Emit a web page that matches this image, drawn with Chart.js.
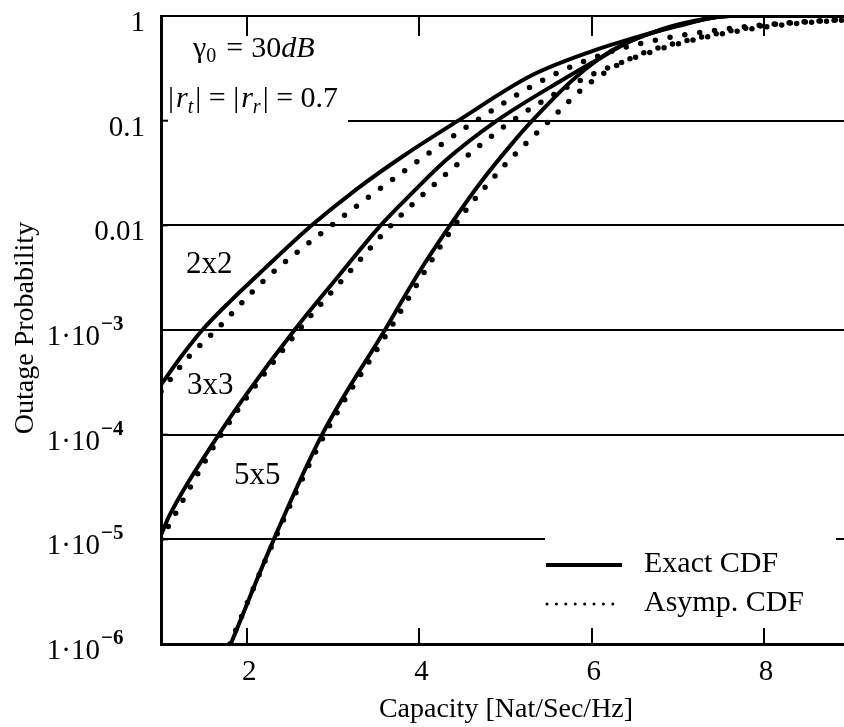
<!DOCTYPE html>
<html>
<head>
<meta charset="utf-8">
<script src="https://cdn.jsdelivr.net/npm/chart.js@4.4.0/dist/chart.umd.min.js"></script>
<style>
html,body{margin:0;padding:0;background:#fff;}
canvas{display:block;}
</style>
</head>
<body>
<canvas id="c" width="844" height="727"></canvas>
<script>
// valores (capacidade em Nat/Sec/Hz, probabilidade de outage)
const cap2x2Exact = [1.0, 1.25, 1.48, 1.8, 2.2, 2.75, 3.25, 3.83, 4.45, 5.3, 6.0, 6.5, 7.0, 7.6, 9.0];
const out2x2Exact = [3.0e-4, 5.8e-4, 1e-3, 1.87e-3, 3.84e-3, 0.01, 0.0215, 0.047, 0.1, 0.27, 0.46, 0.62, 0.81, 1, 1];
const cap2x2Asymp = [1.0, 1.3, 1.64, 2.2, 2.98, 3.8, 4.66, 5.5, 6.2, 6.8, 7.5, 8.2, 9.0];
const out2x2Asymp = [2.6e-4, 5.3e-4, 1e-3, 3e-3, 0.01, 0.032, 0.1, 0.26, 0.45, 0.6, 0.74, 0.85, 0.93];

const cap3x3Exact = [1.0, 1.1, 1.67, 1.97, 2.55, 3.09, 3.55, 3.92, 4.31, 4.9, 5.66, 6.06, 6.5, 7.0, 7.6, 9.0];
const out3x3Exact = [1.1e-5, 1.7e-5, 1e-4, 2.3e-4, 1e-3, 3.5e-3, 0.01, 0.0205, 0.042, 0.1, 0.245, 0.38, 0.6, 0.8, 1, 1];
const cap3x3Asymp = [1.0, 1.7, 2.6, 3.15, 3.67, 4.35, 5.08, 5.9, 6.5, 7.1, 7.8, 8.4, 9.0];
const out3x3Asymp = [1e-5, 1e-4, 1e-3, 3.3e-3, 0.01, 0.033, 0.1, 0.25, 0.4, 0.57, 0.74, 0.85, 0.92];

const cap5x5Exact = [1.81, 2.31, 2.87, 3.6, 4.0, 4.31, 4.7, 5.08, 5.31, 5.78, 6.24, 6.8, 7.2, 7.6, 9.0];
const out5x5Exact = [1e-6, 1e-5, 1e-4, 1e-3, 3.6e-3, 0.0088, 0.025, 0.061, 0.1, 0.245, 0.47, 0.74, 0.9, 1, 1];
const cap5x5Asymp = [1.8, 2.32, 2.9, 3.65, 4.41, 4.97, 5.51, 5.95, 6.5, 7.13, 7.9, 8.5, 9.0];
const out5x5Asymp = [1e-6, 1e-5, 1e-4, 1e-3, 0.01, 0.036, 0.1, 0.22, 0.41, 0.59, 0.79, 0.88, 0.93];

const xTicks = [2, 4, 6, 8];
const yTicks = [1, 0.1, 0.01, 1e-3, 1e-4, 1e-5, 1e-6];
const yTickBase = ['1', '0.1', '0.01', '1\u00b710', '1\u00b710', '1\u00b710', '1\u00b710'];
const yTickExp = ['', '', '', '\u22123', '\u22124', '\u22125', '\u22126'];
const curveNames = ['2x2', '3x3', '5x5'];
const legendNames = ['Exact CDF', 'Asymp. CDF'];

const SERIF = '"Liberation Serif", "Times New Roman", serif';

function pts(xs, ys){ return xs.map((x,i)=>({x:x, y:ys[i]})); }

function exactSet(xs, ys){
  return { data: pts(xs, ys), borderColor:'#000', borderWidth:4, pointRadius:0,
    cubicInterpolationMode:'monotone', fill:false };
}
function asympSet(xs, ys){
  return { data: pts(xs, ys), borderColor:'#000', borderWidth:5.5, pointRadius:0,
    borderDash:[0, 15], borderCapStyle:'round', cubicInterpolationMode:'monotone', fill:false };
}

function runs(ctx, x, y, parts){
  parts.forEach(p=>{
    ctx.font = p.f;
    ctx.fillText(p.t, x, y + (p.dy||0));
    x += ctx.measureText(p.t).width + (p.gap||0);
  });
}

const overlay = {
  id:'overlay',
  beforeDatasetsDraw(chart){
    const ctx = chart.ctx;
    ctx.save();
    ctx.fillStyle = '#fff';
    // caixas brancas do texto e da legenda (cortam a grade)
    ctx.fillRect(163, 19, 348-163, 135-19);
    ctx.fillRect(545, 528, 836-545, 641-528);
    ctx.restore();
  },
  afterDraw(chart){
    const ctx = chart.ctx, xs = chart.scales.x, ys = chart.scales.y;
    const a = chart.chartArea;
    ctx.save();
    ctx.strokeStyle = '#000'; ctx.fillStyle = '#000';
    // marcas do eixo x (em cima e embaixo, para dentro)
    ctx.lineWidth = 2;
    xTicks.forEach(v=>{
      const px = Math.round(xs.getPixelForValue(v));
      ctx.beginPath(); ctx.moveTo(px, a.bottom); ctx.lineTo(px, a.bottom-16); ctx.stroke();
      ctx.beginPath(); ctx.moveTo(px, a.top); ctx.lineTo(px, a.top+20); ctx.stroke();
    });
    yTicks.forEach(v=>{
      const py = ys.getPixelForValue(v);
      ctx.beginPath(); ctx.moveTo(a.left, py); ctx.lineTo(a.left+7, py); ctx.stroke();
    });
    // rótulos
    ctx.textBaseline = 'alphabetic';
    ctx.font = '29px ' + SERIF;
    ctx.textAlign = 'center';
    xTicks.forEach(v=>{ ctx.fillText(String(v), xs.getPixelForValue(v)+2, 680); });
    yTicks.forEach((v,i)=>{
      const py = ys.getPixelForValue(v) + 15;
      if(!yTickExp[i]){
        ctx.textAlign = 'right'; ctx.font = '29px ' + SERIF;
        ctx.fillText(yTickBase[i], 145, py);
      } else {
        ctx.textAlign = 'right'; ctx.font = '29px ' + SERIF;
        ctx.fillText(yTickBase[i], 100, py);
        ctx.textAlign = 'left'; ctx.font = 'bold 21px ' + SERIF;
        ctx.fillText(yTickExp[i], 101, py-15);
      }
    });
    ctx.textAlign = 'center'; ctx.font = '28px ' + SERIF;
    ctx.fillText('Capacity [Nat/Sec/Hz]', 506, 717);
    ctx.save();
    ctx.translate(33, 328); ctx.rotate(-Math.PI/2);
    ctx.fillText('Outage Probability', 0, 0);
    ctx.restore();
    // nomes das curvas
    ctx.textAlign = 'left'; ctx.font = '31px ' + SERIF;
    ctx.fillText(curveNames[0], 186, 273);
    ctx.fillText(curveNames[1], 187, 394);
    ctx.fillText(curveNames[2], 234, 484);
    // anotação
    const R = '30px ' + SERIF, I = 'italic 30px ' + SERIF, S = '20px ' + SERIF, SI = 'italic 20px ' + SERIF;
    runs(ctx, 193, 57, [{t:'\u03b3', f:R}, {t:'0', f:S, dy:5, gap:10}, {t:'=', f:R, gap:8}, {t:'30', f:R}, {t:'dB', f:I}]);
    runs(ctx, 168, 107, [{t:'|', f:R, gap:2}, {t:'r', f:I}, {t:'t', f:SI, dy:6, gap:2}, {t:'| = |', f:R, gap:2},
      {t:'r', f:I}, {t:'r', f:SI, dy:6, gap:2}, {t:'| = 0.7', f:R}]);
    // legenda
    ctx.lineWidth = 4; ctx.setLineDash([]);
    ctx.beginPath(); ctx.moveTo(546, 565); ctx.lineTo(622, 565); ctx.stroke();
    ctx.lineWidth = 3; ctx.lineCap = 'round'; ctx.setLineDash([0, 9.4]);
    ctx.beginPath(); ctx.moveTo(547, 604); ctx.lineTo(622, 604); ctx.stroke();
    ctx.setLineDash([]);
    ctx.font = '30px ' + SERIF;
    ctx.fillText(legendNames[0], 644, 572);
    ctx.fillText(legendNames[1], 644, 611);
    ctx.restore();
  }
};

new Chart(document.getElementById('c').getContext('2d'), {
  type:'line',
  data:{ datasets:[
    exactSet(cap2x2Exact, out2x2Exact), asympSet(cap2x2Asymp, out2x2Asymp),
    exactSet(cap3x3Exact, out3x3Exact), asympSet(cap3x3Asymp, out3x3Asymp),
    exactSet(cap5x5Exact, out5x5Exact), asympSet(cap5x5Asymp, out5x5Asymp)
  ]},
  options:{
    responsive:false, animation:false,
    layout:{ padding:{ left:161, top:16, right:0, bottom:83 } },
    plugins:{ legend:{display:false}, tooltip:{enabled:false} },
    scales:{
      x:{ type:'linear', min:1, max:8.93,
        grid:{ display:false, drawTicks:false },
        border:{ display:true, color:'#000', width:3 },
        ticks:{ display:false } },
      y:{ type:'logarithmic', min:1e-6, max:1,
        afterBuildTicks(s){ s.ticks = yTicks.map(v=>({value:v})); },
        grid:{ color:'#000', lineWidth:2, drawTicks:false },
        border:{ display:true, color:'#000', width:3 },
        ticks:{ display:false } }
    }
  },
  plugins:[overlay]
});
</script>
</body>
</html>
